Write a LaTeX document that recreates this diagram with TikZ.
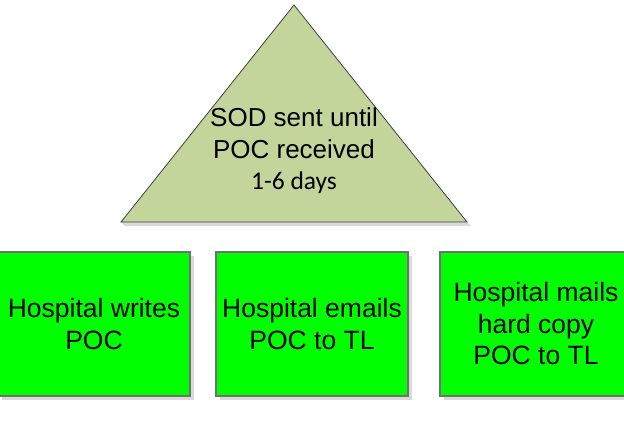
\documentclass[tikz,border=0pt]{standalone}
\usepackage{fontspec}
\setmainfont{Liberation Sans}
\newfontfamily\calfont{Carlito}
\usetikzlibrary{shadows}
\definecolor{olivefill}{RGB}{195,213,155}
\definecolor{boxgreen}{RGB}{0,255,0}
\definecolor{boxedge}{RGB}{112,112,112}
\definecolor{shadowgray}{RGB}{218,218,218}
\tikzset{
  stepbox/.style={draw=boxedge, line width=1.1pt, fill=boxgreen,
    minimum width=192pt, minimum height=144pt, inner sep=0pt,
    align=center, font=\fontsize{26.5}{31.5}\selectfont,
    drop shadow={shadow xshift=3.5pt, shadow yshift=-3.5pt, fill=shadowgray, opacity=1}},
  tritext/.style={inner sep=0pt, align=center, font=\fontsize{26}{32}\selectfont},
}
\begin{document}
\begin{tikzpicture}[x=1pt,y=-1pt]
\useasboundingbox (0,0) rectangle (624,423);
% triangle
\fill[shadowgray] (121,222) -- (467,222) -- (471,226) -- (125,226) -- cycle;
\draw[fill=olivefill, draw=black!75, line width=0.8pt, line join=miter]
  (294,5) -- (467,222) -- (121,222) -- cycle;
\node[tritext, anchor=base] (t1) at (294,126) {SOD sent until};
\node[tritext, anchor=base] (t2) at (294,158) {POC received};
\node[inner sep=0pt, anchor=base, font=\calfont\fontsize{25.5}{30}\selectfont] (t3) at (294,189) {1-6 days};
% boxes
\node[stepbox] (b1) at (94,324) {Hospital writes\\POC};
\node[stepbox] (b2) at (312,324) {Hospital emails\\POC to TL};
\node[stepbox] (b3) at (536,324) {Hospital mails\\hard copy\\POC to TL};
\end{tikzpicture}
\end{document}
